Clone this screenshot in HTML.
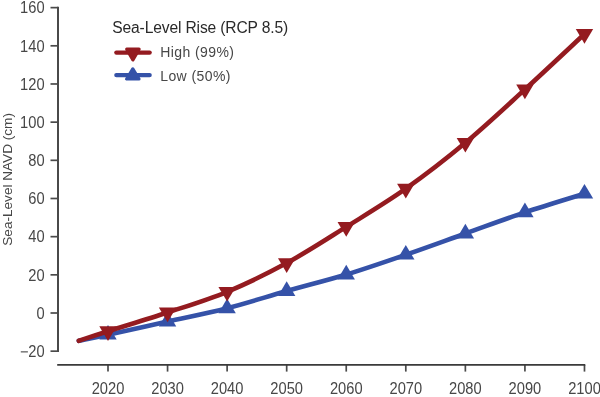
<!DOCTYPE html>
<html><head><meta charset="utf-8"><style>
html,body{margin:0;padding:0;background:#fff;width:600px;height:397px;overflow:hidden;}
svg{display:block;will-change:transform;}
</style></head><body>
<svg width="600" height="397" viewBox="0 0 600 397">
<path d="M58,6.84 V351.97" stroke="#4a4a4a" stroke-width="2" fill="none"/>
<g stroke="#4a4a4a" stroke-width="1.7" fill="none">
<path d="M50.5,351.17 H58"/>
<path d="M50.5,313.00 H58"/>
<path d="M50.5,274.83 H58"/>
<path d="M50.5,236.66 H58"/>
<path d="M50.5,198.49 H58"/>
<path d="M50.5,160.32 H58"/>
<path d="M50.5,122.15 H58"/>
<path d="M50.5,83.98 H58"/>
<path d="M50.5,45.81 H58"/>
<path d="M50.5,7.64 H58"/>
<path d="M108.00,365 V371.6"/>
<path d="M167.56,365 V371.6"/>
<path d="M227.12,365 V371.6"/>
<path d="M286.68,365 V371.6"/>
<path d="M346.24,365 V371.6"/>
<path d="M405.80,365 V371.6"/>
<path d="M465.36,365 V371.6"/>
<path d="M524.92,365 V371.6"/>
<path d="M584.48,365 V371.6"/>
</g>
<path d="M57.2,364.8 H585.3" stroke="#3a3a3a" stroke-width="1.8" fill="none"/>
<g font-family="&quot;Liberation Sans&quot;, sans-serif" font-size="15.8" fill="#474747">
<text transform="translate(44.6,356.97) scale(0.93,1)" text-anchor="end">20</text>
<text transform="translate(44.6,318.80) scale(0.93,1)" text-anchor="end">0</text>
<text transform="translate(44.6,280.63) scale(0.93,1)" text-anchor="end">20</text>
<text transform="translate(44.6,242.46) scale(0.93,1)" text-anchor="end">40</text>
<text transform="translate(44.6,204.29) scale(0.93,1)" text-anchor="end">60</text>
<text transform="translate(44.6,166.12) scale(0.93,1)" text-anchor="end">80</text>
<text transform="translate(44.6,127.95) scale(0.93,1)" text-anchor="end">100</text>
<text transform="translate(44.6,89.78) scale(0.93,1)" text-anchor="end">120</text>
<text transform="translate(44.6,51.61) scale(0.93,1)" text-anchor="end">140</text>
<text transform="translate(44.6,13.44) scale(0.93,1)" text-anchor="end">160</text>
</g>
<path d="M20.8,351.87 H27.9" stroke="#474747" stroke-width="1.1"/>
<g font-family="&quot;Liberation Sans&quot;, sans-serif" font-size="15.8" fill="#474747">
<text transform="translate(108.00,393.6) scale(0.93,1)" text-anchor="middle">2020</text>
<text transform="translate(167.56,393.6) scale(0.93,1)" text-anchor="middle">2030</text>
<text transform="translate(227.12,393.6) scale(0.93,1)" text-anchor="middle">2040</text>
<text transform="translate(286.68,393.6) scale(0.93,1)" text-anchor="middle">2050</text>
<text transform="translate(346.24,393.6) scale(0.93,1)" text-anchor="middle">2060</text>
<text transform="translate(405.80,393.6) scale(0.93,1)" text-anchor="middle">2070</text>
<text transform="translate(465.36,393.6) scale(0.93,1)" text-anchor="middle">2080</text>
<text transform="translate(524.92,393.6) scale(0.93,1)" text-anchor="middle">2090</text>
<text transform="translate(584.48,393.6) scale(0.93,1)" text-anchor="middle">2100</text>
</g>
<text transform="translate(11.6,179.4) rotate(-90)" font-family="&quot;Liberation Sans&quot;, sans-serif" font-size="13.6" fill="#474747" text-anchor="middle">Sea-Level NAVD (cm)</text>
<path d="M78.80,340.80 C83.67,339.78 93.21,337.90 108.00,334.70 C122.79,331.50 147.71,326.00 167.56,321.60 C187.41,317.20 207.27,313.40 227.12,308.30 C246.97,303.20 266.83,296.63 286.68,291.00 C306.53,285.37 326.39,280.55 346.24,274.50 C366.09,268.45 385.95,261.53 405.80,254.70 C425.65,247.87 445.51,240.55 465.36,233.50 C485.21,226.45 505.07,219.03 524.92,212.40 C544.77,205.77 574.55,196.82 584.48,193.70" stroke="#3552a8" stroke-width="4.6" fill="none" stroke-linecap="round" stroke-linejoin="round"/>
<polygon points="99.30,339.60 116.70,339.60 108.00,324.90" fill="#3552a8"/>
<polygon points="158.86,326.50 176.26,326.50 167.56,311.80" fill="#3552a8"/>
<polygon points="218.42,313.20 235.82,313.20 227.12,298.50" fill="#3552a8"/>
<polygon points="277.98,295.90 295.38,295.90 286.68,281.20" fill="#3552a8"/>
<polygon points="337.54,279.40 354.94,279.40 346.24,264.70" fill="#3552a8"/>
<polygon points="397.10,259.60 414.50,259.60 405.80,244.90" fill="#3552a8"/>
<polygon points="456.66,238.40 474.06,238.40 465.36,223.70" fill="#3552a8"/>
<polygon points="516.22,217.30 533.62,217.30 524.92,202.60" fill="#3552a8"/>
<polygon points="575.78,198.60 593.18,198.60 584.48,183.90" fill="#3552a8"/>
<path d="M78.80,340.80 C83.67,339.20 93.21,335.92 108.00,331.20 C122.79,326.48 147.71,319.07 167.56,312.50 C187.41,305.93 207.27,300.03 227.12,291.80 C246.97,283.57 266.83,273.92 286.68,263.10 C306.53,252.28 326.39,239.30 346.24,226.90 C366.09,214.50 385.95,202.72 405.80,188.70 C425.65,174.68 445.51,159.35 465.36,142.80 C485.21,126.25 505.07,107.53 524.92,89.40 C544.77,71.27 574.55,43.23 584.48,34.00" stroke="#941b20" stroke-width="4.6" fill="none" stroke-linecap="round" stroke-linejoin="round"/>
<polygon points="99.30,326.30 116.70,326.30 108.00,341.00" fill="#941b20"/>
<polygon points="158.86,307.60 176.26,307.60 167.56,322.30" fill="#941b20"/>
<polygon points="218.42,286.90 235.82,286.90 227.12,301.60" fill="#941b20"/>
<polygon points="277.98,258.20 295.38,258.20 286.68,272.90" fill="#941b20"/>
<polygon points="337.54,222.00 354.94,222.00 346.24,236.70" fill="#941b20"/>
<polygon points="397.10,183.80 414.50,183.80 405.80,198.50" fill="#941b20"/>
<polygon points="456.66,137.90 474.06,137.90 465.36,152.60" fill="#941b20"/>
<polygon points="516.22,84.50 533.62,84.50 524.92,99.20" fill="#941b20"/>
<polygon points="575.78,29.10 593.18,29.10 584.48,43.80" fill="#941b20"/>
<text x="112.3" y="33" font-family="&quot;Liberation Sans&quot;, sans-serif" font-size="15.6" letter-spacing="-0.14" fill="#2a2a2a">Sea-Level Rise (RCP 8.5)</text>
<path d="M116.4,52.6 H149.6" stroke="#941b20" stroke-width="4.4" stroke-linecap="round"/>
<polygon points="126.7,49.1 139.1,49.1 132.9,59.9" fill="#941b20" stroke="#941b20" stroke-width="3.2" stroke-linejoin="round"/>
<path d="M116.4,75.1 H149.6" stroke="#3552a8" stroke-width="4.4" stroke-linecap="round"/>
<polygon points="126.6,79 139,79 132.8,68.9" fill="#3552a8" stroke="#3552a8" stroke-width="3.2" stroke-linejoin="round"/>
<text transform="translate(160.2,56.8)" font-family="&quot;Liberation Sans&quot;, sans-serif" font-size="14" letter-spacing="0.42" fill="#474747">High (99%)</text>
<text transform="translate(160.2,80.8)" font-family="&quot;Liberation Sans&quot;, sans-serif" font-size="14" letter-spacing="0.42" fill="#474747">Low (50%)</text>
</svg>
</body></html>
